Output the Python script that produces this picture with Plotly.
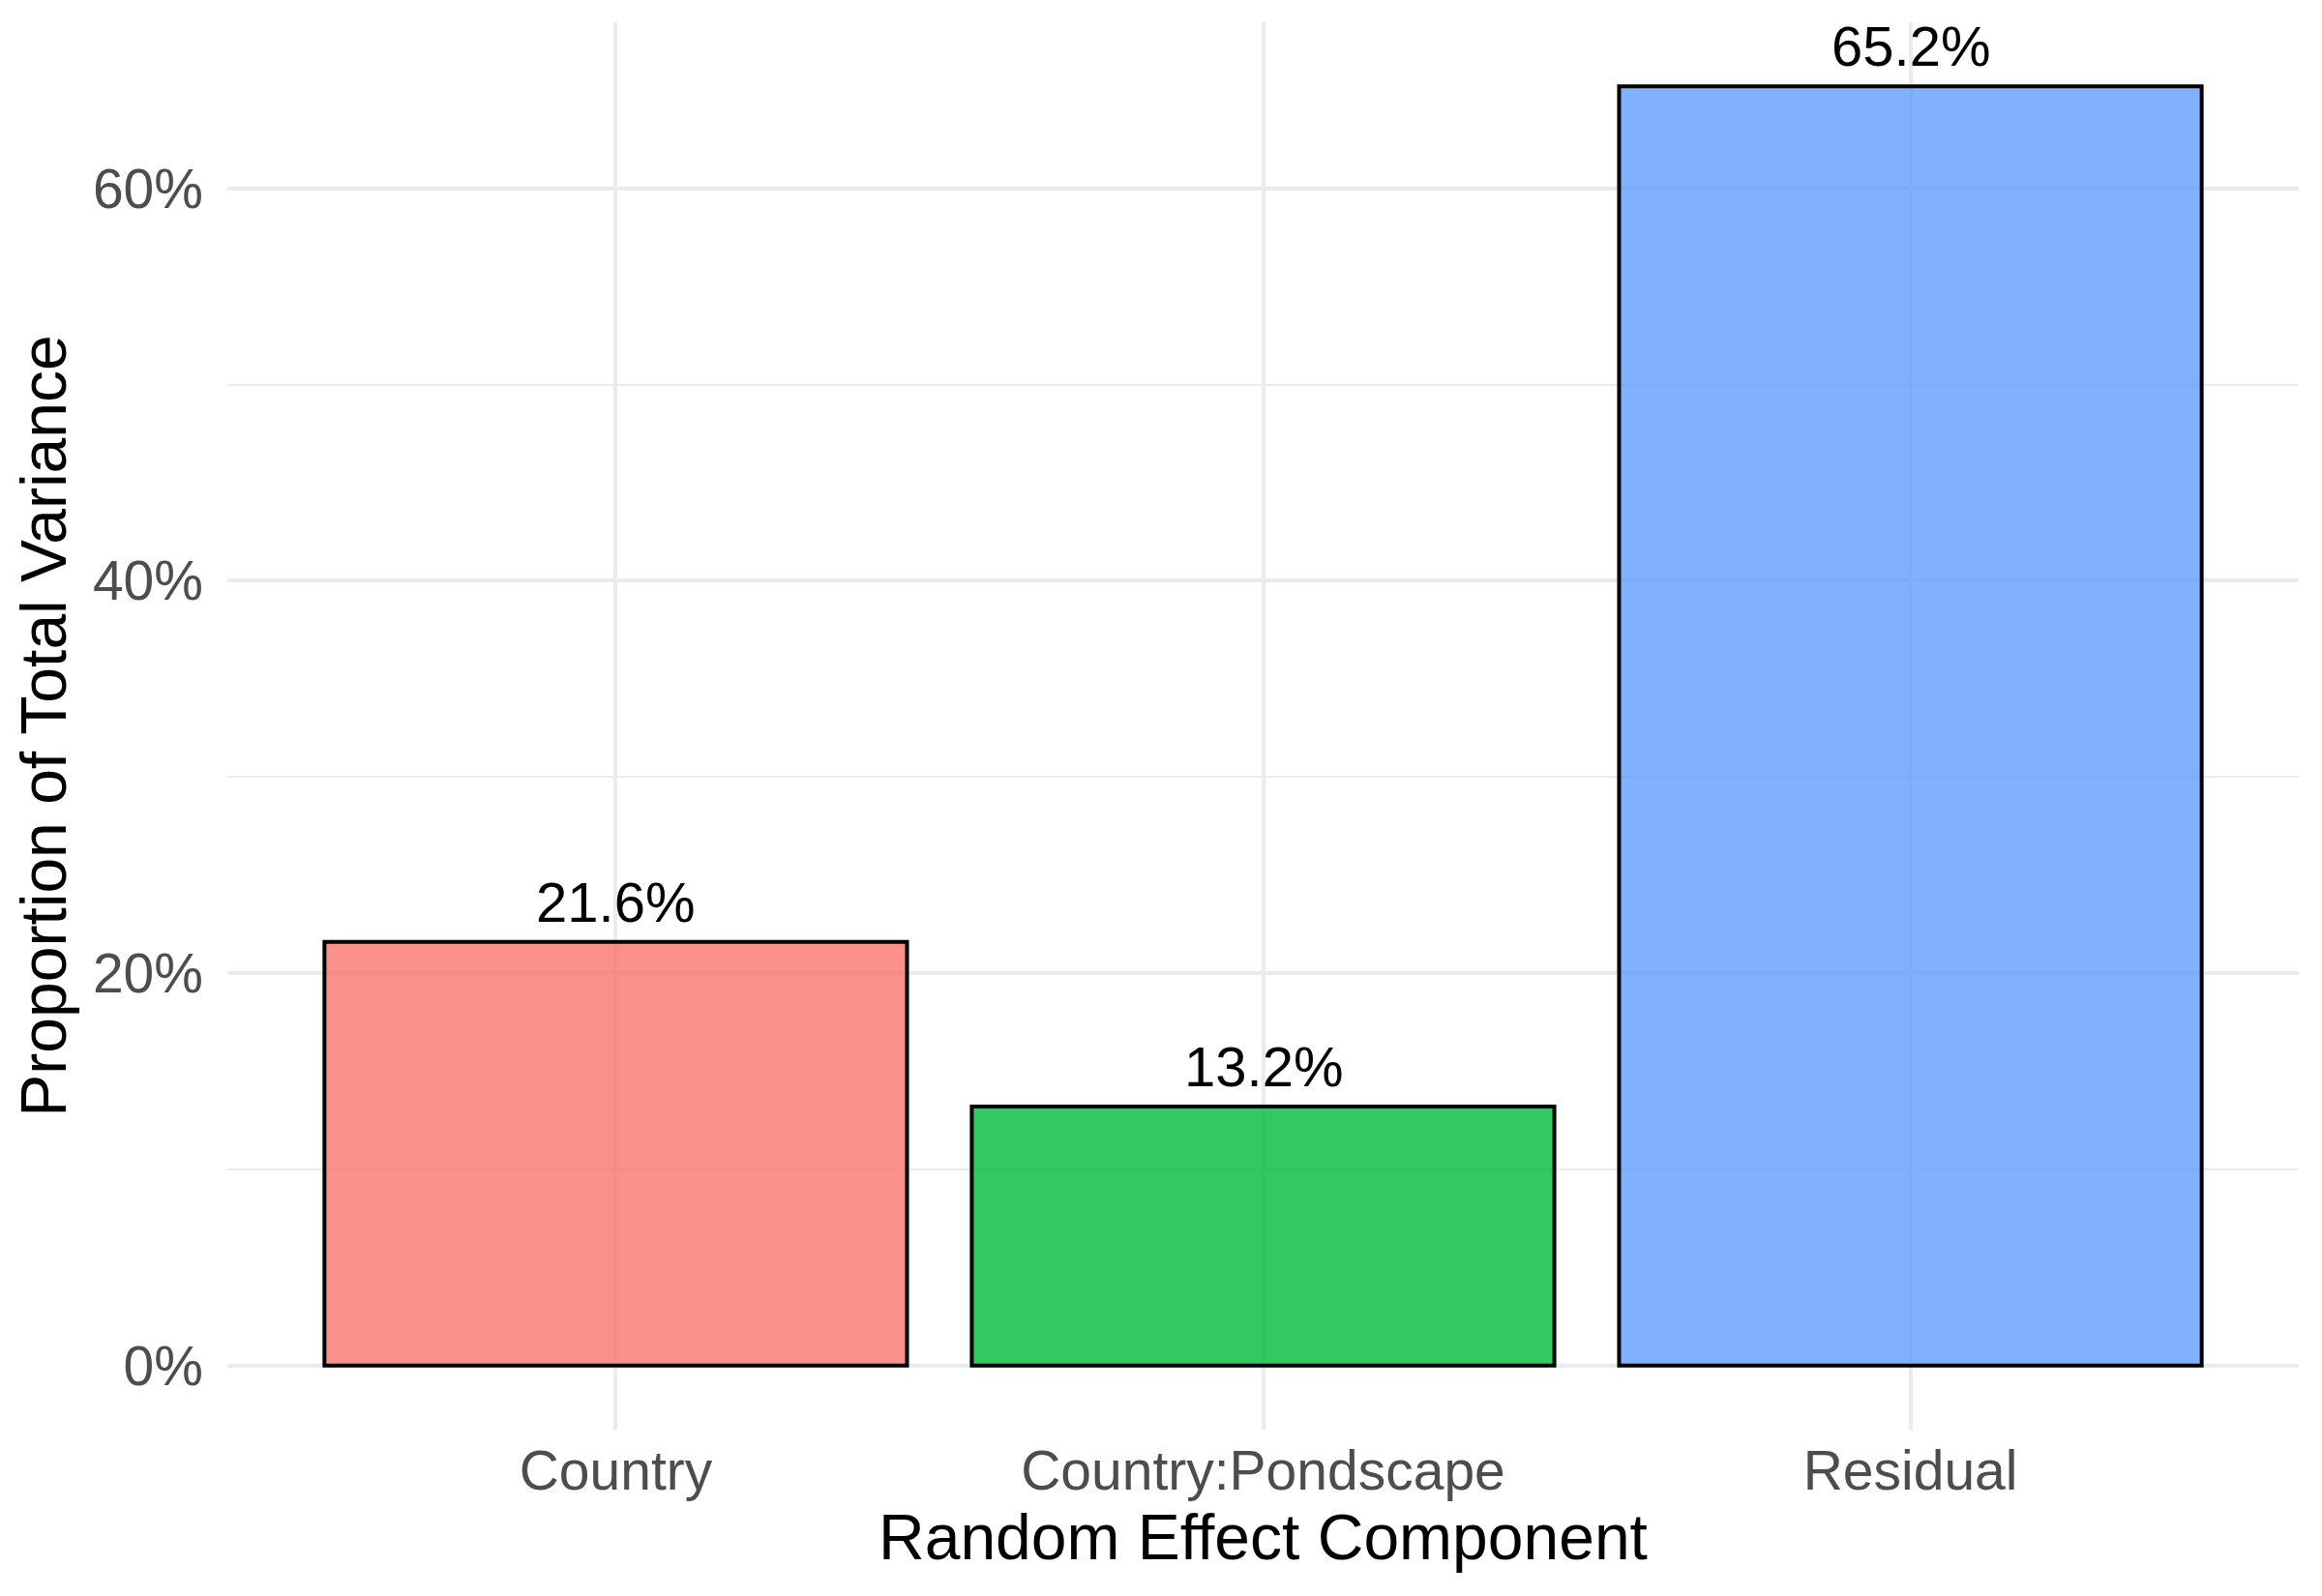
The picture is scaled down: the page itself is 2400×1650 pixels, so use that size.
import plotly.graph_objects as go

# variance components (proportion of total variance, %)
components = ['Country', 'Country:Pondscape', 'Residual']
proportions = [21.6, 13.2, 65.2]
bar_colors = ['rgba(248,118,109,0.8)', 'rgba(0,186,56,0.8)', 'rgba(97,156,255,0.8)']
y_ticks = [0, 20, 40, 60]
y_tick_text = ['0%', '20%', '40%', '60%']
y_minor = [10, 30, 50]

font = 'Liberation Sans, Arial, Helvetica, sans-serif'

fig = go.Figure()

fig.add_trace(
    go.Bar(
        x=components,
        y=proportions,
        width=0.9,
        marker=dict(color=bar_colors, line=dict(color='black', width=4)),
        showlegend=False,
        hoverinfo='skip',
    )
)

for comp, val in zip(components, proportions):
    fig.add_annotation(
        x=comp,
        y=val,
        text=f'{val:.1f}%',
        showarrow=False,
        yanchor='bottom',
        yshift=7,
        font=dict(family=font, size=58, color='black'),
    )

fig.update_layout(
    width=2400,
    height=1650,
    margin=dict(l=227, r=32, t=15, b=180),
    paper_bgcolor='white',
    plot_bgcolor='white',
    font=dict(family=font),
    bargap=0.1,
    xaxis=dict(
        range=[-0.6, 2.6],
        showgrid=True,
        gridcolor='#EBEBEB',
        gridwidth=4,
        zeroline=False,
        showline=False,
        ticks='',
        ticklabelstandoff=4,
        tickfont=dict(family=font, size=57, color='#4D4D4D'),
        title=dict(text='Random Effect Component', font=dict(family=font, size=66, color='black'), standoff=6),
    ),
    yaxis=dict(
        range=[-3.26, 68.46],
        tickvals=y_ticks,
        ticktext=y_tick_text,
        showgrid=True,
        gridcolor='#EBEBEB',
        gridwidth=4,
        minor=dict(tickvals=y_minor, showgrid=True, gridcolor='#EBEBEB', gridwidth=2),
        zeroline=False,
        showline=False,
        ticks='',
        ticklabelstandoff=24,
        tickfont=dict(family=font, size=57, color='#4D4D4D'),
        title=dict(text='Proportion of Total Variance', font=dict(family=font, size=66, color='black'), standoff=5),
    ),
)

fig.write_html('out.html')
